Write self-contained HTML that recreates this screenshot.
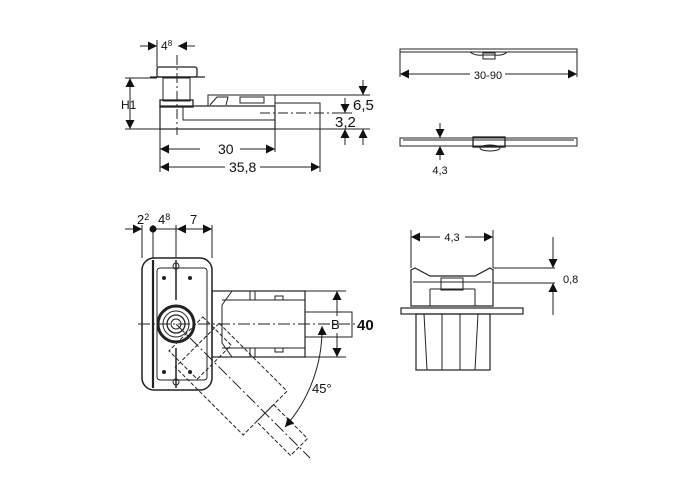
<!DOCTYPE html>
<html><head><meta charset="utf-8"><style>
html,body{margin:0;padding:0;background:#fff;width:700px;height:500px;overflow:hidden}
svg{display:block}
text{font-family:"Liberation Sans",sans-serif;fill:#111}
</style></head><body>
<svg width="700" height="500" viewBox="0 0 700 500" xmlns="http://www.w3.org/2000/svg">
<defs>
<marker id="a" viewBox="0 0 10 10" refX="10" refY="5" markerWidth="9" markerHeight="9" orient="auto-start-reverse" markerUnits="userSpaceOnUse"><path d="M0,0L10,5L0,10z" fill="#111"/></marker>
</defs>
<g stroke="#222" fill="none" stroke-width="1">
<!-- TOP LEFT -->
<rect x="157" y="67" width="40" height="10" rx="2" stroke-width="1.3"/>
<line x1="150" y1="77" x2="205" y2="77" stroke-width="1.3"/>
<rect x="163" y="78" width="27" height="23"/>
<rect x="160" y="100" width="33" height="7" stroke-width="1.3"/>
<rect x="160" y="106" width="115" height="23" stroke-width="1.2"/>
<path d="M183,107V120H275"/>
<rect x="208" y="95" width="67" height="11"/>
<path d="M210,105L217,97H228L226,105" />
<rect x="240" y="97" width="24" height="6"/>
<rect x="275" y="103" width="45" height="26"/>
<line x1="260" y1="113" x2="335" y2="113" stroke-dasharray="10,3,2,3"/>
<line x1="177" y1="55" x2="177" y2="135" stroke-dasharray="10,3,2,3"/>
<line x1="157" y1="40" x2="157" y2="67"/>
<line x1="140" y1="46" x2="157" y2="46" marker-end="url(#a)"/>
<line x1="195" y1="46" x2="178" y2="46" marker-end="url(#a)"/>
<line x1="125" y1="78" x2="157" y2="78"/>
<line x1="125" y1="129" x2="160" y2="129"/>
<line x1="130" y1="78" x2="130" y2="129" marker-start="url(#a)" marker-end="url(#a)"/>
<line x1="275" y1="95" x2="370" y2="95"/>
<line x1="320" y1="129" x2="370" y2="129"/>
<line x1="335" y1="113" x2="352" y2="113"/>
<line x1="363" y1="80" x2="363" y2="95" marker-end="url(#a)"/>
<line x1="345" y1="98" x2="345" y2="113" marker-end="url(#a)"/>
<line x1="345" y1="145" x2="345" y2="129" marker-end="url(#a)"/>
<line x1="363" y1="145" x2="363" y2="129" marker-end="url(#a)"/>
<line x1="160" y1="129" x2="160" y2="172"/>
<line x1="275" y1="129" x2="275" y2="152"/>
<line x1="320" y1="129" x2="320" y2="172"/>
<line x1="160" y1="149" x2="200" y2="149" marker-start="url(#a)"/>
<line x1="240" y1="149" x2="275" y2="149" marker-end="url(#a)"/>
<line x1="160" y1="167" x2="225" y2="167" marker-start="url(#a)"/>
<line x1="260" y1="167" x2="320" y2="167" marker-end="url(#a)"/>
<!-- TOP RIGHT -->
<rect x="400" y="49" width="177" height="3"/>
<path d="M470,52Q475,56 483,55H495Q503,56 507,52"/>
<rect x="483" y="53" width="12" height="6"/>
<line x1="400" y1="52" x2="400" y2="77"/>
<line x1="577" y1="52" x2="577" y2="77"/>
<line x1="400" y1="74" x2="470" y2="74" marker-start="url(#a)"/>
<line x1="505" y1="74" x2="577" y2="74" marker-end="url(#a)"/>
<rect x="400" y="138" width="177" height="8"/>
<line x1="403" y1="140" x2="574" y2="140"/>
<rect x="473" y="137" width="32" height="10" stroke-width="1.3"/>
<ellipse cx="490" cy="148" rx="10" ry="3"/>
<line x1="440" y1="123" x2="440" y2="138" marker-end="url(#a)"/>
<line x1="440" y1="160" x2="440" y2="146" marker-end="url(#a)"/>
<!-- BOTTOM RIGHT -->
<line x1="411" y1="230" x2="411" y2="268"/>
<line x1="493" y1="230" x2="493" y2="268"/>
<line x1="411" y1="237" x2="440" y2="237" marker-start="url(#a)"/>
<line x1="465" y1="237" x2="493" y2="237" marker-end="url(#a)"/>
<path d="M411,270L415,268L430,276H475L490,268L493,270V306H411Z" stroke-width="1.2"/>
<line x1="413" y1="282" x2="491" y2="282"/>
<rect x="441" y="278" width="22" height="12"/>
<line x1="430" y1="289" x2="475" y2="289"/>
<line x1="430" y1="289" x2="430" y2="306"/>
<line x1="475" y1="289" x2="475" y2="306"/>
<rect x="401" y="308" width="122" height="6" stroke-width="1.2"/>
<rect x="416" y="314" width="74" height="56" stroke-width="1.2"/>
<path d="M424,314L427,370M442,314V370M460,314V370M478,314L475,370"/>
<line x1="493" y1="268" x2="555" y2="268"/>
<line x1="493" y1="283" x2="555" y2="283"/>
<line x1="553" y1="237" x2="553" y2="268" marker-end="url(#a)"/>
<line x1="553" y1="315" x2="553" y2="283" marker-end="url(#a)"/>
<!-- BOTTOM LEFT -->
<rect x="142" y="258" width="70" height="132" rx="12" stroke-width="1.5"/>
<line x1="153" y1="260" x2="153" y2="388" stroke-width="2.2"/>
<rect x="157" y="268" width="50" height="112" rx="3"/>
<g transform="rotate(45 176 324)" stroke-dasharray="4,2">
<rect x="206" y="293" width="96" height="62"/>
<rect x="302" y="312" width="48" height="24"/>
<rect x="190" y="300" width="40" height="48"/>
</g>
<line x1="176" y1="324" x2="310" y2="458" stroke-dasharray="12,3,2,3"/>
<circle cx="176" cy="324" r="18" stroke-width="3"/>
<circle cx="176" cy="324" r="13"/>
<circle cx="176" cy="324" r="9" stroke-width="1.3"/>
<circle cx="176" cy="324" r="5"/>
<line x1="176" y1="260" x2="176" y2="300" stroke-width="1.5"/>
<line x1="176" y1="348" x2="176" y2="388" stroke-width="1.5"/>
<circle cx="176" cy="266" r="3"/><circle cx="176" cy="382" r="3"/>
<circle cx="164" cy="278" r="1.5" fill="#222"/><circle cx="190" cy="278" r="1.5" fill="#222"/>
<circle cx="164" cy="372" r="1.5" fill="#222"/><circle cx="190" cy="372" r="1.5" fill="#222"/>
<rect x="212" y="291" width="93" height="66" stroke-width="1.2"/>
<path d="M232,291L222,305V343L232,357"/>
<line x1="222" y1="300" x2="305" y2="300"/>
<line x1="222" y1="348" x2="305" y2="348"/>
<rect x="275" y="296" width="8" height="4"/><rect x="275" y="348" width="8" height="4"/>
<line x1="250" y1="291" x2="250" y2="300"/><line x1="255" y1="291" x2="255" y2="300"/>
<line x1="250" y1="348" x2="250" y2="357"/><line x1="255" y1="348" x2="255" y2="357"/>
<rect x="305" y="312" width="47" height="25"/>
<line x1="138" y1="324" x2="355" y2="324" stroke-dasharray="12,3,2,3"/>
<line x1="305" y1="291" x2="346" y2="291"/>
<line x1="305" y1="357" x2="346" y2="357"/>
<line x1="337" y1="291" x2="337" y2="316" marker-start="url(#a)"/>
<line x1="337" y1="333" x2="337" y2="357" marker-end="url(#a)"/>
<path d="M322,326A148,148 0 0 1 285,427" marker-start="url(#a)" marker-end="url(#a)"/>
<line x1="142" y1="225" x2="142" y2="258"/>
<line x1="153" y1="225" x2="153" y2="258"/>
<line x1="176" y1="225" x2="176" y2="258"/>
<line x1="212" y1="225" x2="212" y2="258"/>
<line x1="125" y1="229" x2="142" y2="229" marker-end="url(#a)"/>
<line x1="153" y1="229" x2="212" y2="229"/>
<line x1="190" y1="229" x2="177" y2="229" marker-end="url(#a)"/>
<line x1="200" y1="229" x2="212" y2="229" marker-end="url(#a)"/>
</g>
<circle cx="153" cy="229" r="3.5" fill="#111"/>
<g font-size="12">
<text x="161" y="50">4<tspan font-size="8" dy="-4">8</tspan></text>
<text x="121" y="109">H1</text>
<text x="353" y="110" font-size="15">6,5</text>
<text x="335" y="127" font-size="15">3,2</text>
<text x="218" y="154" font-size="14">30</text>
<text x="229" y="172" font-size="14">35,8</text>
<text x="488" y="79" font-size="11" text-anchor="middle">30-90</text>
<text x="440" y="174" font-size="11" text-anchor="middle">4,3</text>
<text x="452" y="241" font-size="11" text-anchor="middle">4,3</text>
<text x="563" y="283" font-size="11">0,8</text>
<text x="137" y="224" font-size="13">2<tspan font-size="9" dy="-4">2</tspan></text>
<text x="158" y="224" font-size="13">4<tspan font-size="9" dy="-4">8</tspan></text>
<text x="190" y="224" font-size="13">7</text>
<text x="331" y="329" font-size="13">B</text>
<text x="357" y="330" font-size="15" font-weight="bold">40</text>
<text x="312" y="393" font-size="13">45°</text>
</g>
</svg>
</body></html>
